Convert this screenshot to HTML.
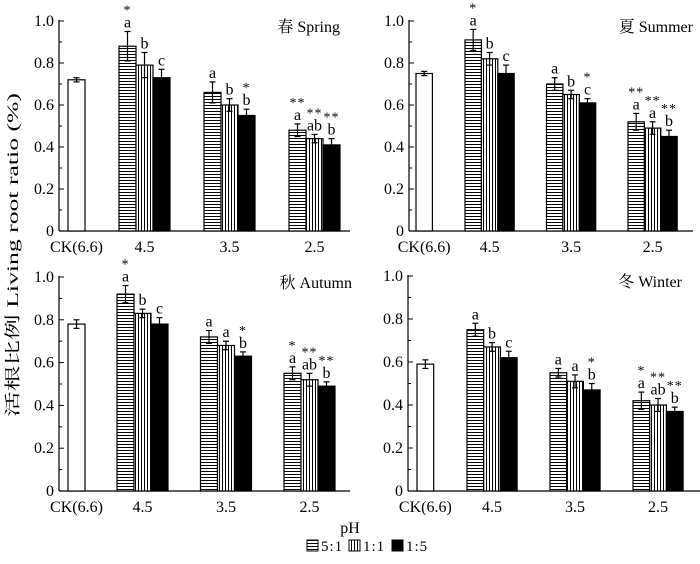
<!DOCTYPE html>
<html><head><meta charset="utf-8"><style>
body{margin:0;background:#fff}
svg{display:block;font-family:"Liberation Serif","Noto Serif CJK SC",serif}
</style></head><body>
<svg id="chart" width="700" height="564" viewBox="0 0 700 564" xmlns="http://www.w3.org/2000/svg">
<defs>
<pattern id="hpat" patternUnits="userSpaceOnUse" width="4" height="3"><rect width="4" height="3" fill="#fff"/><line x1="0" y1="0.5" x2="4" y2="0.5" stroke="#000" stroke-width="1"/></pattern>
<pattern id="vpat" patternUnits="userSpaceOnUse" width="3" height="4"><rect width="3" height="4" fill="#fff"/><line x1="0.5" y1="0" x2="0.5" y2="4" stroke="#000" stroke-width="1"/></pattern>
</defs>
<text transform="translate(18,255) rotate(-90)" text-anchor="middle" font-size="16" textLength="324" lengthAdjust="spacingAndGlyphs">活根比例 Living root ratio (%)</text>
<text x="350" y="533" text-anchor="middle" font-size="16">pH</text>
<g font-size="15">
<g><rect x="307" y="540" width="11" height="11" fill="url(#hpat)" stroke="#000"/><text x="321" y="551" letter-spacing="1">5:1</text></g>
<g><rect x="349" y="540" width="11" height="11" fill="url(#vpat)" stroke="#000"/><text x="363" y="551" letter-spacing="1">1:1</text></g>
<g><rect x="392" y="540" width="11" height="11" fill="#000" stroke="#000"/><text x="406" y="551" letter-spacing="1">1:5</text></g>
</g>
<g id="panels"></g>
</svg>
<script>
const categories = ["CK(6.6)", "4.5", "3.5", "2.5"];
const yTicks = [0, 0.2, 0.4, 0.6, 0.8, 1.0];
const yTickLabels = ["0", "0.2", "0.4", "0.6", "0.8", "1.0"];
const seasonNames = ["春 Spring", "夏 Summer", "秋 Autumn", "冬 Winter"];
const ckValues = [0.72, 0.75, 0.78, 0.59];
const ckErrors = [0.01, 0.01, 0.02, 0.02];
const springR51 = [0.88, 0.66, 0.48], springR51Err = [0.07, 0.05, 0.03];
const springR11 = [0.79, 0.60, 0.44], springR11Err = [0.06, 0.03, 0.02];
const springR15 = [0.73, 0.55, 0.41], springR15Err = [0.04, 0.03, 0.03];
const summerR51 = [0.91, 0.70, 0.52], summerR51Err = [0.05, 0.03, 0.04];
const summerR11 = [0.82, 0.65, 0.49], summerR11Err = [0.03, 0.02, 0.03];
const summerR15 = [0.75, 0.61, 0.45], summerR15Err = [0.04, 0.02, 0.03];
const autumnR51 = [0.92, 0.72, 0.55], autumnR51Err = [0.04, 0.03, 0.03];
const autumnR11 = [0.83, 0.68, 0.52], autumnR11Err = [0.02, 0.02, 0.03];
const autumnR15 = [0.78, 0.63, 0.49], autumnR15Err = [0.03, 0.02, 0.02];
const winterR51 = [0.75, 0.55, 0.42], winterR51Err = [0.03, 0.02, 0.04];
const winterR11 = [0.67, 0.51, 0.40], winterR11Err = [0.02, 0.03, 0.03];
const winterR15 = [0.62, 0.47, 0.37], winterR15Err = [0.03, 0.03, 0.02];
const springLetters = [["a","b","c"],["a","b","b"],["a","ab","b"]];
const springStars = [["*","",""],["","","*"],["**","**","**"]];
const summerLetters = [["a","b","c"],["a","b","c"],["a","a","b"]];
const summerStars = [["*","",""],["","","*"],["**","**","**"]];
const autumnLetters = [["a","b","c"],["a","a","b"],["a","ab","b"]];
const autumnStars = [["*","",""],["","","*"],["*","**","**"]];
const winterLetters = [["a","b","c"],["a","a","b"],["a","ab","b"]];
const winterStars = [["","",""],["","","*"],["*","**","**"]];

const seriesData = [
 [[springR51,springR51Err],[springR11,springR11Err],[springR15,springR15Err],springLetters,springStars],
 [[summerR51,summerR51Err],[summerR11,summerR11Err],[summerR15,summerR15Err],summerLetters,summerStars],
 [[autumnR51,autumnR51Err],[autumnR11,autumnR11Err],[autumnR15,autumnR15Err],autumnLetters,autumnStars],
 [[winterR51,winterR51Err],[winterR11,winterR11Err],[winterR15,winterR15Err],winterLetters,winterStars]
];
const geoms = [
 {ax:59,y0:231,y1:21,ck:68,g0:119,sp:85,bw:17,right:350,tr:340},
 {ax:409,y0:231,y1:21,ck:416,g0:465,sp:81.5,bw:16.4,right:693,tr:693},
 {ax:59,y0:491,y1:277,ck:68,g0:117,sp:83.5,bw:17,right:350,tr:352},
 {ax:408,y0:491,y1:276,ck:417,g0:467,sp:83,bw:16.7,right:700,tr:682}
];
const fills = ["url(#hpat)","url(#vpat)","#000"];
const NS = "http://www.w3.org/2000/svg";
const root = document.getElementById("panels");
function mk(tag, attrs, parent, txt){const e=document.createElementNS(NS,tag);for(const k in attrs)e.setAttribute(k,attrs[k]);if(txt!==undefined)e.textContent=txt;parent.appendChild(e);return e;}
function errBar(g,cx,y,e,ys){const top=ys(y+e),bot=ys(y-e);
 mk("line",{x1:cx,x2:cx,y1:top,y2:bot,stroke:"#000","stroke-width":1.2},g);
 mk("line",{x1:cx-3,x2:cx+3,y1:top,y2:top,stroke:"#000","stroke-width":1.2},g);
 mk("line",{x1:cx-3,x2:cx+3,y1:bot,y2:bot,stroke:"#000","stroke-width":1.2},g);}
const panelNames=["spring-panel","summer-panel","autumn-panel","winter-panel"];
geoms.forEach((G,p)=>{
 const g=mk("g",{},root);
 
 
 const ys=v=>G.y0-(G.y0-G.y1)*v;
 const fg=(c)=>c===0?G.ck+G.bw/2:G.g0+(c-1)*G.sp;
 const ax=mk("line",{x1:G.ax,x2:G.ax,y1:G.y1-1,y2:G.y0,stroke:"#000","stroke-width":1.2},g);
 
 
 const bx=mk("line",{x1:G.ax,x2:G.right,y1:G.y0,y2:G.y0,stroke:"#000","stroke-width":1.2},g);
 
 
 for(let m=0;m<=10;m++){const v=m/10;const y=ys(v);mk("line",{x1:G.ax,x2:G.ax+(m%2===0?5:3),y1:y,y2:y,stroke:"#000","stroke-width":1},g);}
 yTicks.forEach((v,i)=>{const t=mk("text",{x:G.ax-5,y:ys(v)+5,"text-anchor":"end","font-size":16},g,yTickLabels[i]);
  
  });
 categories.forEach((c,i)=>{const cx=i===0?fg(0):fg(i)+G.bw*1.5;
  const t=mk("text",{x:cx,y:G.y0+21,"text-anchor":"middle","font-size":16},g,c);
  
  });
 const tt=mk("text",{x:G.tr,y:G.y1+11,"text-anchor":"end","font-size":16},g,seasonNames[p]);
 
 
 const ckb=mk("rect",{x:G.ck,y:ys(ckValues[p]),width:G.bw,height:G.y0-ys(ckValues[p]),fill:"#fff",stroke:"#000","stroke-width":1.2},g);
 
 
 errBar(g,G.ck+G.bw/2,ckValues[p],ckErrors[p],ys);
 const D=seriesData[p];
 for(let s=0;s<3;s++){
  const vals=D[s][0],errs=D[s][1];
  vals.forEach((v,gi)=>{
   const x=G.g0+gi*G.sp+s*G.bw;
   const r=mk("rect",{x:x,y:ys(v),width:G.bw,height:G.y0-ys(v),fill:fills[s],stroke:"#000","stroke-width":1.2},g);
   
   
   const cx=x+G.bw/2;
   errBar(g,cx,v,errs[gi],ys);
   const ty=ys(v+errs[gi]);
   const lt=mk("text",{x:cx,y:ty-4,"text-anchor":"middle","font-size":16},g,D[3][gi][s]);
   
   
   if(D[4][gi][s]){const st=mk("text",{x:cx,y:ty-17,"text-anchor":"middle","font-size":14,"letter-spacing":1},g,D[4][gi][s]);
    
    }
  });
 }
});
</script>
</body></html>
